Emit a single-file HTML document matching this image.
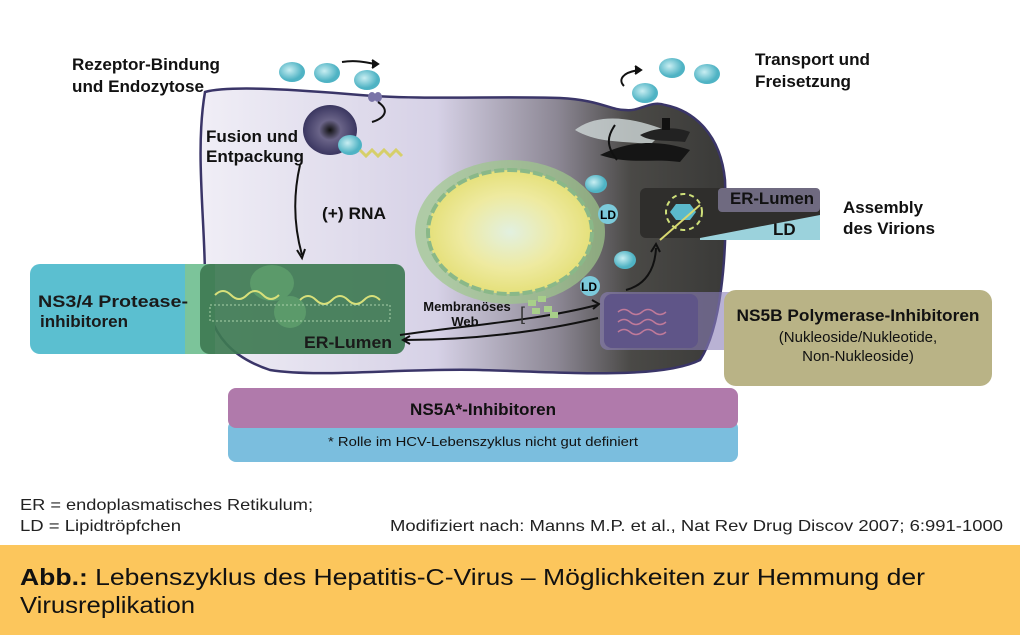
<!DOCTYPE html>
<html><head><meta charset="utf-8"><style>
html,body{margin:0;padding:0;background:#fff}
body{width:1020px;height:635px;overflow:hidden;position:relative;font-family:"Liberation Sans",sans-serif}
svg{position:absolute;left:0;top:0}
</style></head><body>
<svg width="1020" height="635" viewBox="0 0 1020 635" font-family="Liberation Sans, sans-serif">
<defs>
<linearGradient id="cell" x1="0" x2="1" y1="0" y2="0">
<stop offset="0" stop-color="#f0eef6"/><stop offset="0.45" stop-color="#d6d1e6"/><stop offset="0.68" stop-color="#8c8794"/><stop offset="0.82" stop-color="#4a4946"/><stop offset="1" stop-color="#3a3a38"/></linearGradient>
<radialGradient id="nuc"><stop offset="0" stop-color="#e2f0e0"/><stop offset="0.6" stop-color="#eeeaa0"/><stop offset="1" stop-color="#e5e07a"/></radialGradient>
<radialGradient id="ball" cx="0.4" cy="0.4"><stop offset="0" stop-color="#c8eef2"/><stop offset="1" stop-color="#4fb3c4"/></radialGradient>
<radialGradient id="endo"><stop offset="0" stop-color="#111"/><stop offset="0.4" stop-color="#6a6488"/><stop offset="1" stop-color="#3a3660"/></radialGradient>
</defs>
<path d="M205,92 C230,85 300,90 360,95 C420,100 500,96 560,98 C600,100 610,110 625,110 C640,112 650,100 665,105 C690,110 720,130 725,180 C728,260 720,330 700,360 C660,380 560,372 480,370 C400,368 320,378 270,370 C240,360 205,340 205,280 C205,220 195,150 205,92 Z" fill="url(#cell)" stroke="#3a3568" stroke-width="2.5"/>
<rect x="30" y="264" width="170" height="90" rx="10" fill="#5bbfd0"/>
<rect x="185" y="264" width="30" height="90" fill="#7cc49a"/>
<rect x="200" y="264" width="205" height="90" rx="10" fill="#3e7a52" opacity="0.92"/>
<ellipse cx="272" cy="283" rx="22" ry="18" fill="#5b9a6a"/><ellipse cx="290" cy="312" rx="16" ry="16" fill="#5b9a6a"/>
<path d="M215,295 q8,-8 16,0 t16,0 t16,0 t16,0 M300,300 q8,-8 16,0 t16,0 t16,0 t16,0 t16,0" stroke="#d8e07a" stroke-width="2" fill="none"/>
<rect x="210" y="305" width="180" height="16" fill="none" stroke="#a8d0a8" stroke-dasharray="2 2"/>
<g font-weight="bold" fill="#1a1a1a">
<text x="38" y="307" font-size="17" textLength="150" lengthAdjust="spacingAndGlyphs">NS3/4 Protease-</text>
<text x="40" y="327" font-size="17" textLength="88" lengthAdjust="spacingAndGlyphs">inhibitoren</text>
<text x="304" y="348" font-size="17" textLength="88" lengthAdjust="spacingAndGlyphs">ER-Lumen</text>
</g>
<ellipse cx="510" cy="232" rx="95" ry="72" fill="#9ec88a" opacity="0.7"/>
<ellipse cx="510" cy="232" rx="82" ry="62" fill="url(#nuc)" stroke="#8ab888" stroke-width="4" stroke-dasharray="10 3"/>
<ellipse cx="330" cy="130" rx="27" ry="25" fill="url(#endo)"/>
<ellipse cx="350" cy="145" rx="12" ry="10" fill="url(#ball)"/>
<path d="M360,150 l6,6 l6,-6 l6,6 l6,-6 l6,6 l6,-6 l6,6" stroke="#d6cf6a" stroke-width="3" fill="none"/>
<ellipse cx="292" cy="72" rx="13" ry="10" fill="url(#ball)"/><ellipse cx="327" cy="73" rx="13" ry="10" fill="url(#ball)"/><ellipse cx="367" cy="80" rx="13" ry="10" fill="url(#ball)"/>
<ellipse cx="672" cy="68" rx="13" ry="10" fill="url(#ball)"/><ellipse cx="707" cy="74" rx="13" ry="10" fill="url(#ball)"/><ellipse cx="645" cy="93" rx="13" ry="10" fill="url(#ball)"/>
<ellipse cx="596" cy="184" rx="11" ry="9" fill="url(#ball)"/><ellipse cx="625" cy="260" rx="11" ry="9" fill="url(#ball)"/>
<circle cx="608" cy="214" r="10" fill="#7ccada"/><text x="600" y="219" font-size="12" font-weight="bold">LD</text>
<circle cx="590" cy="286" r="10" fill="#7ccada"/><text x="581" y="291" font-size="12" font-weight="bold">LD</text>
<ellipse cx="372" cy="97" rx="4" ry="5" fill="#7a74a8"/><ellipse cx="378" cy="97" rx="4" ry="5" fill="#7a74a8"/>
<path d="M575,130 C600,110 640,120 665,130 L650,145 C630,140 600,145 575,130Z" fill="#d0d8d8" opacity="0.8"/>
<path d="M600,155 C630,140 660,140 690,150 L680,162 C650,158 630,165 600,155Z" fill="#151515"/>
<path d="M640,135 C660,125 680,128 690,132 L685,142 C665,140 650,142 640,135Z" fill="#222"/>
<rect x="662" y="118" width="8" height="12" fill="#111"/>
<g stroke="#111" stroke-width="2" fill="none">
<path d="M342,62 C355,60 365,62 375,64"/><path d="M372,60 l6,4 l-6,4" fill="#111"/>
<path d="M378,102 C390,110 385,118 372,122"/>
<path d="M300,165 C292,200 295,230 302,255"/><path d="M297,250 l5,8 l3,-9"/>
<path d="M624,86 C618,80 622,72 640,70"/><path d="M635,66 l6,4 l-6,4" fill="#111"/>
<path d="M617,160 C605,145 608,135 615,125"/>
<path d="M626,290 C645,285 655,270 656,248"/><path d="M651,252 l5,-8 l4,8"/>
<path d="M400,335 C470,325 540,320 597,305"/><path d="M592,300 l7,4 l-6,5"/>
<path d="M598,318 C540,332 470,340 405,340"/><path d="M410,336 l-7,4 l7,4"/>
</g>
<rect x="640" y="188" width="180" height="50" rx="6" fill="#2f2e2c"/>
<rect x="718" y="188" width="102" height="24" rx="4" fill="#6f6a80"/>
<path d="M700,238 L820,215 L820,240 L700,240Z" fill="#9bd2dc"/>
<text x="730" y="204" font-size="17" font-weight="bold" fill="#111" textLength="84" lengthAdjust="spacingAndGlyphs">ER-Lumen</text>
<text x="773" y="235" font-size="17" font-weight="bold" fill="#111">LD</text>
<circle cx="684" cy="212" r="18" fill="none" stroke="#cfe07a" stroke-width="2" stroke-dasharray="5 4"/>
<polygon points="676,204 690,204 696,212 690,220 676,220 670,212" fill="#5bb9cc"/>
<path d="M660,240 L700,205" stroke="#d8d870" stroke-width="2"/>
<rect x="600" y="292" width="220" height="58" rx="8" fill="#8a7fb8" opacity="0.6"/>
<rect x="604" y="294" width="94" height="54" rx="8" fill="#5f5588"/>
<path d="M618,312 q6,-5 12,0 t12,0 t12,0 t12,0 M618,322 q6,-5 12,0 t12,0 t12,0 t12,0 M618,332 q6,-5 12,0 t12,0 t12,0 t12,0" stroke="#c07a9a" stroke-width="1.5" fill="none"/>
<rect x="724" y="290" width="268" height="96" rx="12" fill="#b9b386"/>
<text x="858" y="321" font-size="17" font-weight="bold" text-anchor="middle" fill="#111" textLength="243" lengthAdjust="spacingAndGlyphs">NS5B Polymerase-Inhibitoren</text>
<text x="858" y="342" font-size="15" text-anchor="middle" fill="#111">(Nukleoside/Nukleotide,</text>
<text x="858" y="361" font-size="15" text-anchor="middle" fill="#111">Non-Nukleoside)</text>
<g fill="#a8cf8a"><rect x="528" y="300" width="8" height="6"/><rect x="538" y="296" width="8" height="6"/><rect x="532" y="308" width="8" height="6"/><rect x="544" y="306" width="8" height="6"/><rect x="550" y="312" width="8" height="6"/></g>
<text x="467" y="311" font-size="13" font-weight="bold" text-anchor="middle" fill="#111">Membranöses</text>
<text x="465" y="326" font-size="13" font-weight="bold" text-anchor="middle" fill="#111">Web</text>
<text x="520" y="320" font-size="18" fill="#333">[</text>
<rect x="228" y="420" width="510" height="42" rx="8" fill="#7bbede"/>
<rect x="228" y="388" width="510" height="40" rx="8" fill="#b07aab"/>
<text x="483" y="415" font-size="17" font-weight="bold" text-anchor="middle" fill="#111" textLength="146" lengthAdjust="spacingAndGlyphs">NS5A*-Inhibitoren</text>
<text x="483" y="446" font-size="13" text-anchor="middle" fill="#111" textLength="310" lengthAdjust="spacingAndGlyphs">* Rolle im HCV-Lebenszyklus nicht gut definiert</text>
<g font-size="17" font-weight="bold" fill="#111">
<text x="72" y="70" textLength="148" lengthAdjust="spacingAndGlyphs">Rezeptor-Bindung</text><text x="72" y="92" textLength="132" lengthAdjust="spacingAndGlyphs">und Endozytose</text>
<text x="206" y="142" textLength="92" lengthAdjust="spacingAndGlyphs">Fusion und</text><text x="206" y="162" textLength="98" lengthAdjust="spacingAndGlyphs">Entpackung</text>
<text x="322" y="219" textLength="64" lengthAdjust="spacingAndGlyphs">(+) RNA</text>
<text x="755" y="65" textLength="115" lengthAdjust="spacingAndGlyphs">Transport und</text><text x="755" y="87" textLength="96" lengthAdjust="spacingAndGlyphs">Freisetzung</text>
<text x="843" y="213" textLength="80" lengthAdjust="spacingAndGlyphs">Assembly</text><text x="843" y="234" textLength="92" lengthAdjust="spacingAndGlyphs">des Virions</text>
</g>
<g font-size="16" fill="#222">
<text x="20" y="510" textLength="293" lengthAdjust="spacingAndGlyphs">ER = endoplasmatisches Retikulum;</text>
<text x="20" y="531" textLength="161" lengthAdjust="spacingAndGlyphs">LD = Lipidtröpfchen</text>
<text x="390" y="531" textLength="613" lengthAdjust="spacingAndGlyphs">Modifiziert nach: Manns M.P. et al., Nat Rev Drug Discov 2007; 6:991-1000</text>
</g>
<rect x="0" y="545" width="1020" height="90" fill="#fcc65c"/>
<text x="20" y="585" font-size="23" fill="#111" textLength="905" lengthAdjust="spacingAndGlyphs"><tspan font-weight="bold">Abb.:</tspan> Lebenszyklus des Hepatitis-C-Virus – Möglichkeiten zur Hemmung der</text>
<text x="20" y="613" font-size="23" fill="#111" textLength="175" lengthAdjust="spacingAndGlyphs">Virusreplikation</text>
</svg>
</body></html>
